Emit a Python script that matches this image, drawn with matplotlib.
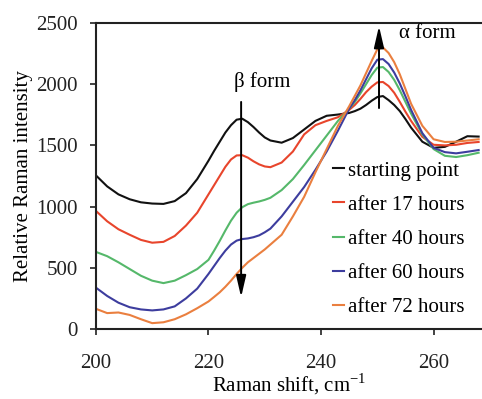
import numpy as np
import matplotlib
matplotlib.use("Agg")
from matplotlib import pyplot as plt

plt.rc("font", family="Liberation Serif", size=15)
plt.rc("mathtext", fontset="custom", rm="Liberation Serif")

# Raman shift (cm-1)
shift = [200, 202, 204, 206, 208, 210, 212, 214, 216, 218, 220,
         221, 222, 223, 224, 225, 226, 227, 228, 229, 230, 231,
         233, 235, 237, 239, 241, 243, 245,
         246, 247, 248, 249, 250, 251, 252, 253, 254, 255, 256,
         258, 260, 262, 264, 266, 268]

start = [1255, 1165, 1100, 1060, 1035, 1025, 1022, 1045, 1110, 1225, 1375,
         1455, 1530, 1605, 1665, 1710, 1718, 1690, 1650, 1605, 1565, 1540,
         1522, 1560, 1630, 1700, 1742, 1752, 1765,
         1780, 1800, 1830, 1865, 1895, 1903, 1870, 1830, 1780, 1715, 1645,
         1530, 1480, 1488, 1530, 1575, 1572]
h17 = [965, 880, 815, 770, 728, 705, 712, 760, 845, 950, 1100,
       1175, 1250, 1325, 1385, 1418, 1420, 1400, 1370, 1345, 1328, 1322,
       1360, 1450, 1590, 1665, 1700, 1730, 1790,
       1830, 1880, 1935, 1980, 2015, 2018, 1985, 1930, 1855, 1775, 1700,
       1570, 1505, 1500, 1505, 1520, 1528]
h40 = [630, 595, 545, 490, 435, 395, 375, 395, 440, 490, 565,
       640, 720, 805, 885, 950, 995, 1020, 1032, 1042, 1055, 1072,
       1135, 1225, 1340, 1460, 1580, 1700, 1800,
       1855, 1925, 2000, 2075, 2135, 2140, 2100, 2035, 1950, 1855, 1760,
       1590, 1470, 1415, 1405, 1420, 1440]
h60 = [338, 270, 215, 178, 160, 152, 160, 185, 250, 330, 450,
       515, 580, 640, 690, 722, 735, 740, 750, 765, 790, 820,
       920, 1040, 1160, 1300, 1450, 1620, 1800,
       1870, 1950, 2040, 2130, 2200, 2205, 2165, 2095, 2005, 1900, 1790,
       1600, 1480, 1445, 1435, 1448, 1462]
h72 = [165, 130, 135, 115, 80, 48, 55, 80, 120, 170, 225,
       262, 300, 345, 395, 450, 500, 545, 580, 615, 650, 690,
       770, 920, 1080, 1280, 1470, 1660, 1820,
       1905, 1990, 2090, 2190, 2285, 2300, 2255, 2180, 2080, 1960, 1840,
       1660, 1550, 1528, 1530, 1540, 1550]

labels = ["starting point", "after 17 hours", "after 40 hours",
          "after 60 hours", "after 72 hours"]
colors = ["#111111", "#e8452c", "#55b86a", "#3d3d9e", "#ea7f3f"]

fig = plt.figure(figsize=(4.82, 3.99), dpi=100)
ax = fig.add_axes([0.199, 0.1754, 0.801, 0.767])

for ys, lab, c in zip([start, h17, h40, h60, h72], labels, colors):
    ax.plot(shift, ys, color=c, lw=1.5, label=lab)

# arrows showing the change of the two forms
beta_x, beta_from, beta_to = 225.8, 1855, 260
alpha_x, alpha_from, alpha_to = 250.3, 1805, 2475
for x0, y0, y1 in [(beta_x, beta_from, beta_to), (alpha_x, alpha_from, alpha_to)]:
    ax.annotate("", xy=(x0, y1), xytext=(x0, y0),
                arrowprops=dict(arrowstyle="-|>,head_length=1.3,head_width=0.3",
                                color="k", lw=1.4, shrinkA=0, shrinkB=0,
                                mutation_scale=10))
ax.text(229.5, 2018, "β form", ha="center", va="center")
ax.text(258.8, 2418, "α form", ha="center", va="center")

ax.set_xlim(200, 268.6)
ax.set_ylim(0, 2500)
ax.set_xticks([200, 220, 240, 260])
ax.set_yticks(np.arange(0, 2501, 500))
ax.tick_params(direction="out", length=4, width=1.2, colors="#222222")
ax.tick_params(axis="y", pad=9)
ax.tick_params(axis="x", pad=14)
for s in ["left", "bottom", "top"]:
    ax.spines[s].set_linewidth(1.5)
    ax.spines[s].set_color("#222222")
ax.spines["right"].set_visible(False)

ax.set_xlabel("Raman shift, cm$^{\\mathregular{-1}}$", labelpad=-1)
ax.set_ylabel("Relative Raman intensity", labelpad=2)

ax.legend(loc="upper left", bbox_to_anchor=(0.614, 0.549), frameon=False,
          handlelength=0.55, handletextpad=0.15, borderpad=0, borderaxespad=0,
          labelspacing=0.7)

fig.savefig("out.png", dpi=100)
